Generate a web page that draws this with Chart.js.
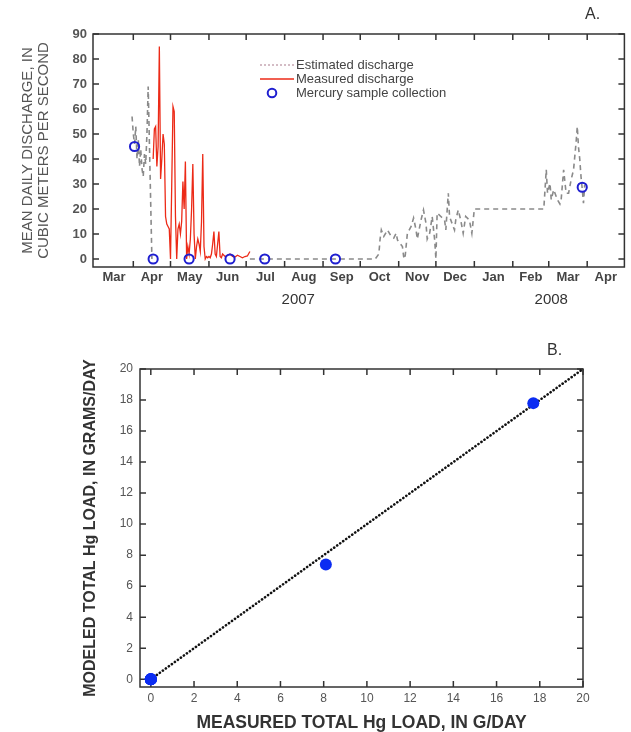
<!DOCTYPE html>
<html>
<head>
<meta charset="utf-8">
<script src="https://cdn.jsdelivr.net/npm/chart.js@4/dist/chart.umd.min.js"></script>
<style>
  body { margin: 0; background: #fff; }
  canvas { display: block; }
</style>
</head>
<body>
<canvas id="chartA" width="631" height="310"></canvas>
<canvas id="chartB" width="631" height="422"></canvas>
<script>
// days counted from 1 March 2007
var monthStarts = [0, 31, 61, 92, 122, 153, 184, 214, 245, 275, 306, 337, 366, 397, 427];
var monthLabels = ['Mar', 'Apr', 'May', 'Jun', 'Jul', 'Aug', 'Sep', 'Oct', 'Nov', 'Dec', 'Jan', 'Feb', 'Mar', 'Apr'];
var yearLabels = ['2007', '2008'];
var yearLabelDays = [164, 368];
var dischargeTicks = [0, 10, 20, 30, 40, 50, 60, 70, 80, 90];

var estDays = [30, 31, 32, 33, 34, 35, 36, 37, 38, 39, 40, 41, 42, 43, 46, 47,
  125, 226, 229, 230, 231, 233, 236, 239, 241, 243, 244, 248, 249, 250, 252, 255, 257, 259, 260,
  263, 265, 267, 268, 270, 272, 274, 275, 276, 279, 282, 283, 285, 286, 287, 290, 291, 293, 295,
  297, 299, 302, 304, 306, 362, 364, 365, 367, 368, 370, 373, 375, 376, 378, 380, 382, 384, 386,
  388, 389, 390, 391, 392, 393, 394, 395];
var estQ = [57, 50, 46, 53, 40, 48, 37, 44, 36, 33, 42, 38, 50, 69, 0, null,
  0, 0, 2, 8, 11.6, 9, 11.6, 9, 8.4, 10.3, 7.6, 5, 1, 0, 10.3, 13, 16.4, 11.6, 8,
  15.6, 19.6, 14.3, 8, 10.4, 17, 7.6, 0, 18.4, 17, 15.6, 11.6, 26.3, 17, 15.6, 11.6, 15.6, 19.6, 15.6,
  10.3, 17, 15.6, 10.3, 20, 20, 35.7, 26.3, 30.3, 23.7, 27.7, 23.7, 22, 23.7, 35.7, 26.3, 26.3, 31.6, 35.7,
  46.4, 53, 44.7, 40, 33, 28, 22.3, 29.7];

var measDays = [47, 48, 49, 50, 51, 52, 53, 54, 55, 56, 57, 58, 59, 60, 61, 62, 63, 64, 65, 66,
  67, 68, 69, 70, 71, 72, 73, 74, 75, 76, 77, 78, 79, 80, 81, 82, 83, 84, 85, 86,
  87, 88, 89, 90, 91, 92, 93, 94, 95, 96, 97, 98, 99, 100, 101, 102, 103,
  105, 107, 109, 111, 113, 115, 117, 119, 121, 123, 125];
var measQ = [40, 52, 53, 37, 45, 85, 32, 40, 50, 46, 17, 14, 13, 12, 0, 30, 61, 59, 17, 0,
  12, 14, 10, 15, 31, 20, 39, 0, 5, 2, 8, 20, 38, 10, 0, 5, 8, 6, 3, 15,
  42, 5, 0, 1, 0.5, 1, 0.5, 2, 6, 11, 2, 1, 6, 11, 1, 0.5, 2,
  1, 1.5, 2, 1, 0.8, 1.5, 1, 0.5, 1, 1.2, 3];

var sampleDays = [32, 47, 76, 109, 137, 194, 393];
var sampleQ = [45, 0, 0, 0, 0, 0, 28.7];

var loadTicks = [0, 2, 4, 6, 8, 10, 12, 14, 16, 18, 20];
var measuredLoad = [0, 0, 0, 0, 0, 8.1, 17.7];
var modeledLoad = [0, 0, 0, 0, 0, 7.4, 17.8];
var oneToOne = [0, 20];

var FONT = "'Liberation Sans', Arial, sans-serif";

function pairs(xs, ys) {
  return xs.map(function (x, i) { return { x: x, y: ys[i] }; });
}

var monthMids = monthLabels.map(function (m, i) { return (monthStarts[i] + monthStarts[i + 1]) / 2; });

var noGrid = { display: false, drawTicks: false };

// box frame with inward tick marks, panel tag and optional legend
var framePlugin = {
  id: 'frame',
  beforeDatasetsDraw: function (chart, args, o) {
    var ctx = chart.ctx, a = chart.chartArea, sx = chart.scales.x, sy = chart.scales.y;
    ctx.save();
    ctx.strokeStyle = '#333';
    ctx.lineWidth = 1.5;
    ctx.strokeRect(a.left, a.top, a.right - a.left, a.bottom - a.top);
    ctx.beginPath();
    o.xTicks.forEach(function (v) {
      var px = sx.getPixelForValue(v);
      ctx.moveTo(px, a.top); ctx.lineTo(px, a.top + o.tick);
      ctx.moveTo(px, a.bottom); ctx.lineTo(px, a.bottom - o.tick);
    });
    o.yTicks.forEach(function (v) {
      var py = sy.getPixelForValue(v);
      ctx.moveTo(a.left, py); ctx.lineTo(a.left + o.tick, py);
      ctx.moveTo(a.right, py); ctx.lineTo(a.right - o.tick, py);
    });
    ctx.stroke();
    ctx.fillStyle = '#333';
    ctx.font = '16px ' + FONT;
    ctx.textBaseline = 'middle';
    ctx.fillText(o.tag, o.tagX, o.tagY);
    ctx.restore();
  },
  afterDatasetsDraw: function (chart, args, o) {
    if (!o.legend) return;
    var ctx = chart.ctx, ds = chart.data.datasets;
    var x0 = 260, x1 = 294, tx = 296, y = 65;
    ctx.save();
    ctx.font = '13px ' + FONT;
    ctx.textBaseline = 'middle';
    ctx.fillStyle = '#444';
    // estimated
    ctx.strokeStyle = '#c6a6b2';
    ctx.lineWidth = 1.5;
    ctx.setLineDash([2, 2]);
    ctx.beginPath(); ctx.moveTo(x0, y); ctx.lineTo(x1, y); ctx.stroke();
    ctx.fillText(ds[2].label, tx, y);
    // measured
    y += 14;
    ctx.setLineDash([]);
    ctx.strokeStyle = ds[1].borderColor;
    ctx.lineWidth = 1.3;
    ctx.beginPath(); ctx.moveTo(x0, y); ctx.lineTo(x1, y); ctx.stroke();
    ctx.fillText(ds[1].label, tx, y);
    // samples
    y += 14;
    ctx.strokeStyle = ds[0].borderColor;
    ctx.lineWidth = 2;
    ctx.beginPath(); ctx.arc(272, y, 4.3, 0, Math.PI * 2); ctx.stroke();
    ctx.fillText(ds[0].label, tx, y);
    ctx.restore();
  }
};

new Chart(document.getElementById('chartA'), {
  type: 'line',
  plugins: [framePlugin],
  data: {
    datasets: [{
      label: 'Mercury sample collection',
      type: 'scatter',
      xAxisID: 'x',
      data: pairs(sampleDays, sampleQ),
      showLine: false,
      pointRadius: 4.6,
      pointBorderWidth: 2,
      borderColor: '#1f1fd0',
      backgroundColor: 'rgba(0,0,0,0)'
    }, {
      label: 'Measured discharge',
      xAxisID: 'x',
      data: pairs(measDays, measQ),
      borderColor: '#ec2a17',
      borderWidth: 1.3,
      pointRadius: 0,
      tension: 0
    }, {
      label: 'Estimated discharge',
      xAxisID: 'x',
      data: pairs(estDays, estQ),
      borderColor: '#8a8a8a',
      borderWidth: 1.6,
      borderDash: [5, 4],
      pointRadius: 0,
      spanGaps: false,
      tension: 0
    }]
  },
  options: {
    responsive: false,
    animation: false,
    devicePixelRatio: 1,
    layout: { padding: { top: 34, right: 5, left: 0, bottom: 0 } },
    plugins: {
      legend: { display: false },
      tooltip: { enabled: false },
      frame: { xTicks: monthStarts.slice(1, -1), yTicks: dischargeTicks, tick: 6, tag: 'A.', tagX: 585, tagY: 15, legend: true }
    },
    scales: {
      x: {
        type: 'linear', position: 'bottom', weight: 0,
        min: -1.5, max: 427,
        grid: noGrid, border: { display: false },
        afterBuildTicks: function (s) { s.ticks = monthMids.map(function (v) { return { value: v }; }); },
        afterFit: function (s) { s.height = 22; },
        ticks: {
          autoSkip: false, maxRotation: 0, padding: 3, color: '#444',
          font: { family: FONT, size: 13, weight: 'bold' },
          callback: function (v, i) { return monthLabels[i]; }
        }
      },
      yr: {
        type: 'linear', position: 'bottom', weight: 1,
        min: -1.5, max: 427,
        grid: noGrid, border: { display: false },
        afterBuildTicks: function (s) { s.ticks = yearLabelDays.map(function (v) { return { value: v }; }); },
        afterFit: function (s) { s.height = 21; },
        ticks: {
          autoSkip: false, maxRotation: 0, padding: 2, color: '#333',
          font: { family: FONT, size: 15 },
          callback: function (v, i) { return yearLabels[i]; }
        }
      },
      y: {
        type: 'linear', min: -3.2, max: 90,
        grid: noGrid, border: { display: false },
        afterBuildTicks: function (s) { s.ticks = dischargeTicks.map(function (v) { return { value: v }; }); },
        afterFit: function (s) { s.width = 93; },
        ticks: { padding: 6, color: '#555', font: { family: FONT, size: 13, weight: 'bold' } },
        title: {
          display: true,
          text: ['MEAN DAILY DISCHARGE, IN', 'CUBIC METERS PER SECOND'],
          color: '#555',
          font: { family: FONT, size: 15, lineHeight: 1.07 },
          padding: { top: 20, bottom: 0 }
        }
      }
    }
  }
});

new Chart(document.getElementById('chartB'), {
  type: 'scatter',
  plugins: [framePlugin],
  data: {
    datasets: [{
      label: 'Samples',
      data: pairs(measuredLoad, modeledLoad),
      pointRadius: 6,
      borderWidth: 0,
      backgroundColor: '#0b2cf2'
    }, {
      label: '1:1 line',
      type: 'line',
      data: pairs(oneToOne, oneToOne),
      borderColor: '#111',
      borderWidth: 2.6,
      borderDash: [0.1, 3.6],
      borderCapStyle: 'round',
      pointRadius: 0
    }]
  },
  options: {
    responsive: false,
    animation: false,
    devicePixelRatio: 1,
    layout: { padding: { top: 59, right: 48, left: 0, bottom: 0 } },
    plugins: {
      legend: { display: false },
      tooltip: { enabled: false },
      frame: { xTicks: loadTicks, yTicks: loadTicks, tick: 6, tag: 'B.', tagX: 547, tagY: 41, legend: false }
    },
    scales: {
      x: {
        type: 'linear', min: -0.5, max: 20,
        grid: noGrid, border: { display: false },
        afterBuildTicks: function (s) { s.ticks = loadTicks.map(function (v) { return { value: v }; }); },
        afterFit: function (s) { s.height = 45; },
        ticks: { autoSkip: false, maxRotation: 0, padding: 4, color: '#555', font: { family: FONT, size: 12 } },
        title: {
          display: true,
          text: 'MEASURED TOTAL Hg LOAD, IN G/DAY',
          color: '#333',
          font: { family: FONT, size: 17.5, weight: 'bold', lineHeight: 1 },
          padding: { top: 0, bottom: 0 }
        }
      },
      y: {
        type: 'linear', min: -0.5, max: 20,
        grid: noGrid, border: { display: false },
        afterBuildTicks: function (s) { s.ticks = loadTicks.map(function (v) { return { value: v }; }); },
        afterFit: function (s) { s.width = 140; },
        ticks: { padding: 7, color: '#555', font: { family: FONT, size: 12 } },
        title: {
          display: true,
          text: 'MODELED TOTAL Hg LOAD, IN GRAMS/DAY',
          color: '#333',
          font: { family: FONT, size: 16, weight: 'bold' },
          padding: { top: 81, bottom: 0 }
        }
      }
    }
  }
});
</script>
</body>
</html>
